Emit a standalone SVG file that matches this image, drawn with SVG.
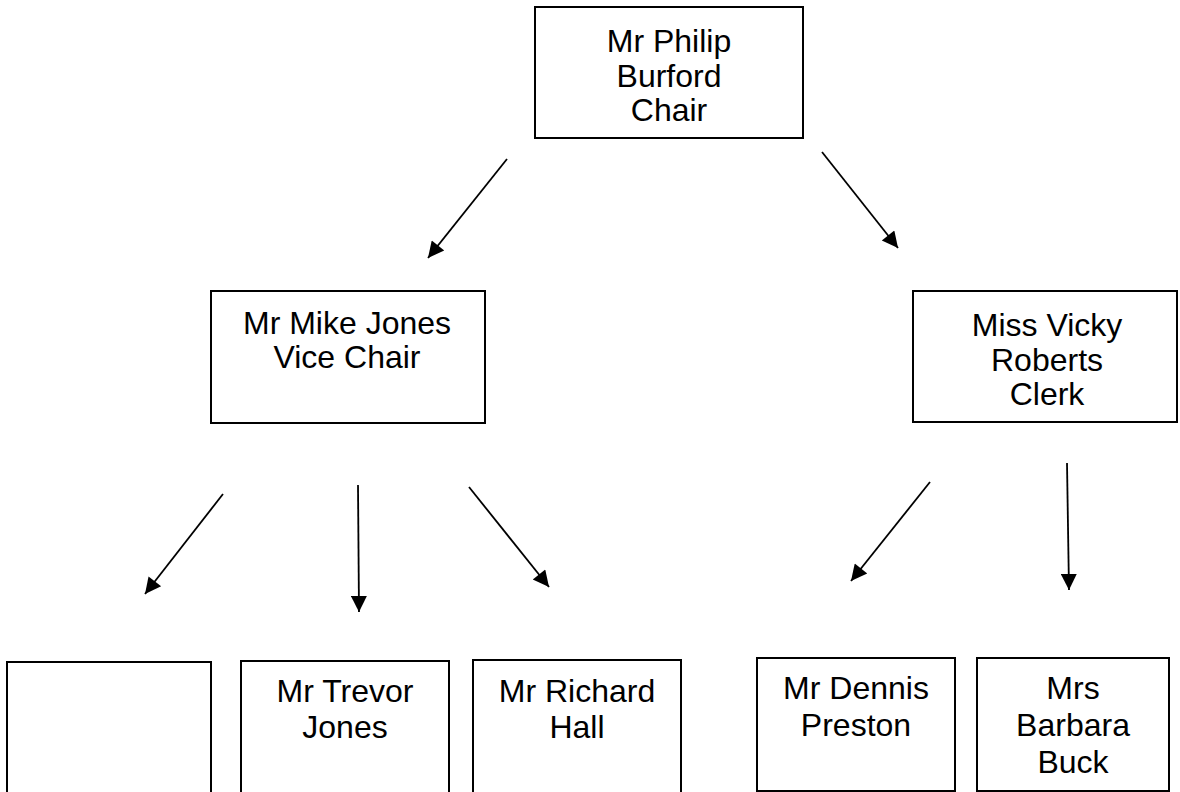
<svg xmlns="http://www.w3.org/2000/svg" width="1180" height="792" viewBox="0 0 1180 792">
<style>
.box{fill:#fff;stroke:#000;stroke-width:2}
.t{font-family:"Liberation Sans",Arial,sans-serif;font-size:32px;fill:#000;text-anchor:middle}
.c{stroke:#000;stroke-width:1.8;fill:none;marker-end:url(#ah)}
</style>
<defs>
<marker id="ah" viewBox="0 0 10 10" refX="10" refY="5" markerUnits="userSpaceOnUse" markerWidth="18" markerHeight="16" orient="auto">
<path d="M0,0 L10,5 L0,10 z" fill="#000"/>
</marker>
</defs>
<rect width="1180" height="792" fill="#fff"/>
<g id="connectors">
<line class="c" x1="507" y1="159" x2="428" y2="258"/>
<line class="c" x1="822" y1="152" x2="898" y2="248"/>
<line class="c" x1="223" y1="494" x2="145" y2="594"/>
<line class="c" x1="358" y1="485" x2="359" y2="612"/>
<line class="c" x1="469" y1="487" x2="549" y2="587"/>
<line class="c" x1="930" y1="482" x2="851" y2="581"/>
<line class="c" x1="1067" y1="463" x2="1069" y2="590"/>
</g>
<g id="chair">
<rect class="box" x="535" y="7" width="268" height="131"/>
<text class="t" x="669" y="52">Mr Philip<tspan x="669" dy="34.5">Burford</tspan><tspan x="669" dy="34.5">Chair</tspan></text>
</g>
<g id="vicechair">
<rect class="box" x="211" y="291" width="274" height="132"/>
<text class="t" x="347" y="334">Mr Mike Jones<tspan x="347" dy="34">Vice Chair</tspan></text>
</g>
<g id="clerk">
<rect class="box" x="913" y="291" width="264" height="131"/>
<text class="t" x="1047" y="336">Miss Vicky<tspan x="1047" dy="34.5">Roberts</tspan><tspan x="1047" dy="34.5">Clerk</tspan></text>
</g>
<g id="empty">
<rect class="box" x="7" y="662" width="204" height="140"/>
</g>
<g id="trevor">
<rect class="box" x="241" y="661" width="208" height="140"/>
<text class="t" x="345" y="702">Mr Trevor<tspan x="345" dy="36">Jones</tspan></text>
</g>
<g id="richard">
<rect class="box" x="473" y="660" width="208" height="140"/>
<text class="t" x="577" y="702">Mr Richard<tspan x="577" dy="36">Hall</tspan></text>
</g>
<g id="dennis">
<rect class="box" x="757" y="658" width="198" height="133"/>
<text class="t" x="856" y="699">Mr Dennis<tspan x="856" dy="37">Preston</tspan></text>
</g>
<g id="barbara">
<rect class="box" x="977" y="658" width="192" height="133"/>
<text class="t" x="1073" y="699">Mrs<tspan x="1073" dy="37">Barbara</tspan><tspan x="1073" dy="37">Buck</tspan></text>
</g>
</svg>
